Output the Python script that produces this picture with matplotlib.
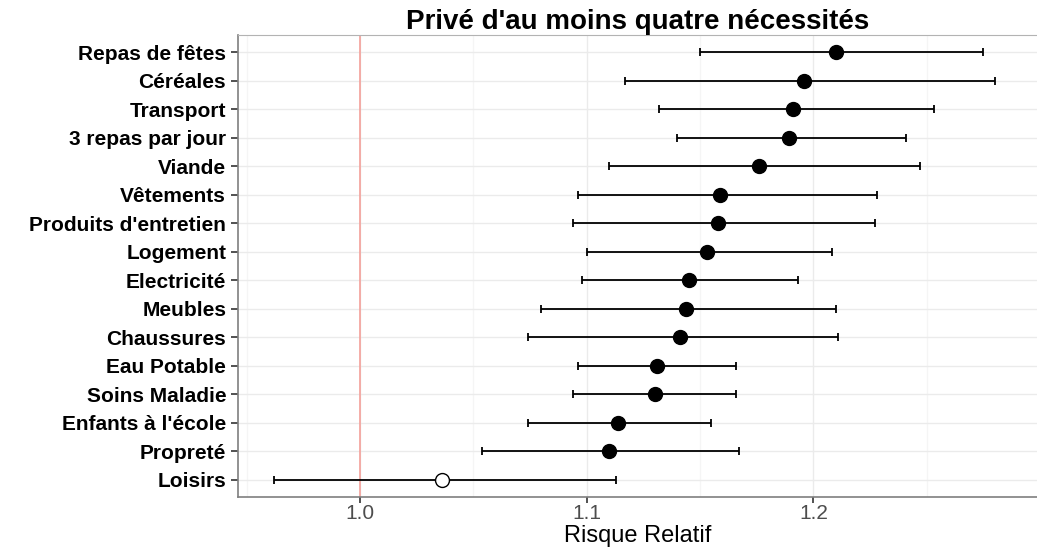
import matplotlib
matplotlib.use("Agg")
import matplotlib.pyplot as plt
import numpy as np

plt.rcParams['font.family'] = ['Liberation Sans', 'DejaVu Sans']

# données (du haut vers le bas)
items = ["Repas de fêtes", "Céréales", "Transport", "3 repas par jour", "Viande",
         "Vêtements", "Produits d'entretien", "Logement", "Electricité", "Meubles",
         "Chaussures", "Eau Potable", "Soins Maladie", "Enfants à l'école",
         "Propreté", "Loisirs"]
rr = [1.210, 1.196, 1.191, 1.189, 1.176, 1.159, 1.158, 1.153, 1.145, 1.144,
      1.141, 1.131, 1.130, 1.114, 1.110, 1.036]
ic_bas = [1.150, 1.117, 1.132, 1.140, 1.110, 1.096, 1.094, 1.100, 1.098, 1.080,
          1.074, 1.096, 1.094, 1.074, 1.054, 0.962]
ic_haut = [1.275, 1.280, 1.253, 1.241, 1.247, 1.228, 1.227, 1.208, 1.193, 1.210,
           1.211, 1.166, 1.166, 1.155, 1.167, 1.113]
significatif = [True] * 15 + [False]

fig = plt.figure(figsize=(10.37, 5.5), dpi=100)
ax = fig.add_axes([0.2295, 0.0964, 0.7705, 0.84])

n = len(items)
y = np.arange(n)[::-1]

ax.axvline(1.0, color='#f4a09a', lw=1.2, zorder=1)
ax.errorbar(rr, y, xerr=[np.array(rr) - np.array(ic_bas), np.array(ic_haut) - np.array(rr)],
            fmt='none', ecolor='black', elinewidth=1.3, capsize=3, capthick=1.3, zorder=2)
for v, yy, s in zip(rr, y, significatif):
    ax.plot(v, yy, 'o', ms=10, mec='black', mew=1,
            mfc='black' if s else 'white', zorder=3)

ax.set_xlim(0.9462, 1.2986)
ax.set_ylim(-0.6, n - 0.4)
ax.set_yticks(y)
ax.set_yticklabels(items, fontsize=15, fontweight='bold')
ax.set_xticks([1.0, 1.1, 1.2])
ax.set_xticklabels(['1.0', '1.1', '1.2'], fontsize=15, color='#4d4d4d')
ax.set_xticks([0.95, 1.05, 1.15, 1.25], minor=True)
ax.tick_params(axis='x', which='minor', length=0)
ax.tick_params(axis='both', which='major', length=5, width=1.2, color='#333333')
ax.tick_params(axis='x', which='major', length=4, pad=1)
ax.grid(True, which='major', color='#ebebeb', lw=1)
ax.grid(True, which='minor', axis='x', color='#f5f5f5', lw=1)
ax.set_axisbelow(True)

for side in ['left', 'bottom']:
    ax.spines[side].set_color('#7f7f7f')
    ax.spines[side].set_linewidth(1.2)
ax.spines['top'].set_color('#b3b3b3')
ax.spines['right'].set_visible(False)

ax.set_xlabel('Risque Relatif', fontsize=17)
ax.xaxis.set_label_coords(0.5, -0.0855)
ax.xaxis.label.set_va('center')
ax.set_title("Privé d'au moins quatre nécessités", fontsize=20, fontweight='bold', pad=3)

fig.savefig('out.png', dpi=100)
